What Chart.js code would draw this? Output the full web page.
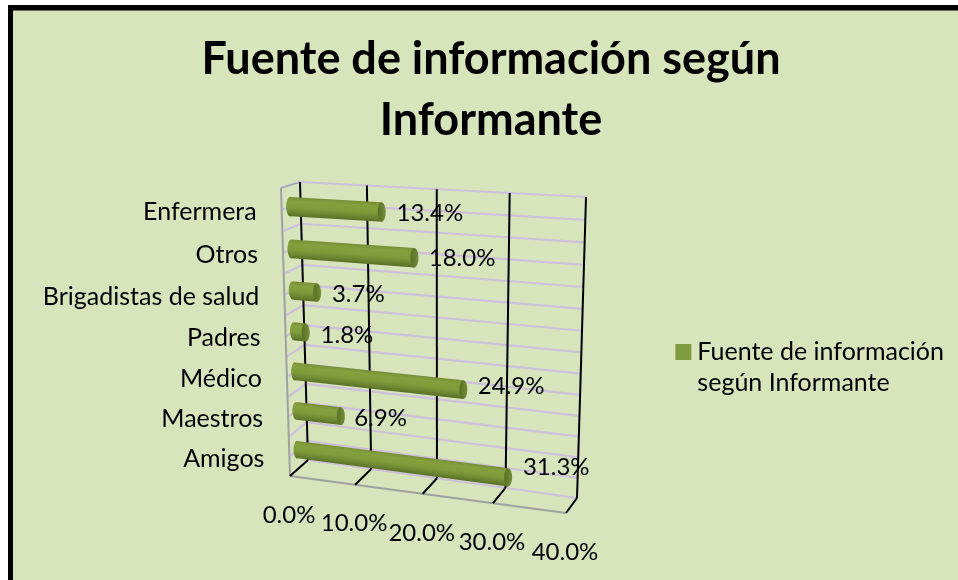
<!DOCTYPE html>
<html><head><meta charset="utf-8">
<style>html,body{margin:0;padding:0;background:#fff}#wrap{width:958px;height:580px;position:relative}</style>
<script src="https://cdn.jsdelivr.net/npm/chart.js@4"></script>
</head><body><div id="wrap"><canvas id="c" width="958" height="580"></canvas></div>
<script>
const categories = ['Enfermera','Otros','Brigadistas de salud','Padres','Médico','Maestros','Amigos'];
const seriesValues = [13.4,18.0,3.7,1.8,24.9,6.9,31.3];
const seriesName = ['Fuente de información','según Informante'];
const titleLines = ['Fuente de información según','Informante'];
const axisMax = 40, axisStep = 10;
const FONT = 'Lato';

// 3D box walls: projection of the plot rectangle
const BACK = [[300,182],[586,197],[577,498],[308,460]];
const FRONT = [[281,188],[575,203],[566,513],[290,476]];
function homography(q){
  const [[x0,y0],[x1,y1],[x2,y2],[x3,y3]] = q;
  const dx1=x1-x2,dx2=x3-x2,sx=x0-x1+x2-x3,dy1=y1-y2,dy2=y3-y2,sy=y0-y1+y2-y3;
  const det=dx1*dy2-dx2*dy1, g=(sx*dy2-dx2*sy)/det, h=(dx1*sy-sx*dy1)/det;
  const a=x1-x0+g*x1,b=x3-x0+h*x3,d=y1-y0+g*y1,e=y3-y0+h*y3;
  return (u,v)=>{const w=g*u+h*v+1;return [(a*u+b*v+x0)/w,(d*u+e*v+y0)/w];};
}
const hBack=homography(BACK), hFront=homography(FRONT);
function P(u,v,d){const A=hBack(u,v),B=hFront(u,v);return [A[0]+(B[0]-A[0])*d,A[1]+(B[1]-A[1])*d];}
const BAR_DEPTH=0.55;
const LABEL_NUDGE_X=[2,2,1,1,3,0,4], LABEL_NUDGE_Y=[2,2,4,6,0,7,-5];
let ca=null;

class CylinderBar extends Chart.BarElement{
  draw(ctx){
    const {x,y,base,height}=this.getProps(['x','y','base','height']);
    const nu=p=>(p-ca.left)/ca.width, nv=p=>(p-ca.top)/ca.height;
    const u0=nu(base),u1=nu(x),v=nv(y),dv=(height/2)/ca.height;
    const tl=P(u0,v-dv,BAR_DEPTH),tr=P(u1,v-dv,BAR_DEPTH),br=P(u1,v+dv,BAR_DEPTH),bl=P(u0,v+dv,BAR_DEPTH);
    const angL=Math.atan2(br[1]-tr[1],br[0]-tr[0])-Math.PI/2;
    const ry=Math.hypot(br[0]-tr[0],br[1]-tr[1])/2;
    const rx=4;
    const cR=[(tr[0]+br[0])/2,(tr[1]+br[1])/2], cL=[(tl[0]+bl[0])/2,(tl[1]+bl[1])/2];
    // shade across the cylinder: gradient axis normal to the bar direction
    const ax=cR[0]-cL[0],ay=cR[1]-cL[1],al=Math.hypot(ax,ay)||1;
    const nx=-ay/al,ny=ax/al;
    const g=ctx.createLinearGradient(cR[0]-nx*ry,cR[1]-ny*ry,cR[0]+nx*ry,cR[1]+ny*ry);
    g.addColorStop(0,'#748d35');g.addColorStop(0.22,'#85a03d');g.addColorStop(0.55,'#7f9b3a');g.addColorStop(0.85,'#67802f');g.addColorStop(1,'#576e28');
    ctx.save();
    ctx.fillStyle=g;
    ctx.beginPath();
    ctx.moveTo(tl[0],tl[1]);ctx.lineTo(tr[0],tr[1]);ctx.lineTo(br[0],br[1]);ctx.lineTo(bl[0],bl[1]);
    ctx.ellipse(cL[0],cL[1],rx,ry,angL,Math.PI/2,Math.PI*1.5);
    ctx.closePath();ctx.fill();
    ctx.beginPath();ctx.ellipse(cR[0],cR[1],rx,ry,angL,0,Math.PI*2);
    const gc=ctx.createLinearGradient(cR[0]-rx,cR[1],cR[0]+rx,cR[1]);
    gc.addColorStop(0,'#586e28');gc.addColorStop(1,'#748e35');
    ctx.fillStyle=gc;ctx.fill();
    ctx.restore();
  }
}
CylinderBar.id='cylinderBar';
CylinderBar.defaults=Chart.BarElement.defaults;
CylinderBar.defaultRoutes=Chart.BarElement.defaultRoutes;
class CylinderController extends Chart.BarController{}
CylinderController.id='cylinderBar';
CylinderController.defaults=Object.assign({},Chart.BarController.defaults,{dataElementType:'cylinderBar'});
CylinderController.overrides=Chart.BarController.overrides;
Chart.register(CylinderBar,CylinderController);

function line(ctx,a,b,color,w){ctx.strokeStyle=color;ctx.lineWidth=w;ctx.beginPath();ctx.moveTo(a[0],a[1]);ctx.lineTo(b[0],b[1]);ctx.stroke();}

const frame={id:'frame',beforeDraw(chart){
  const c=chart.ctx;c.save();
  c.fillStyle='#fff';c.fillRect(0,0,958,580);
  c.fillStyle='#000';c.fillRect(8,5,950,575);
  c.fillStyle='#d8e4bc';c.fillRect(13,10.5,945,570);
  c.restore();
}};
const box3d={id:'box3d',
  beforeDatasetsDraw(chart){
    ca=chart.chartArea;
    const c=chart.ctx,xs=chart.scales.x,ys=chart.scales.y;
    const nu=p=>(p-ca.left)/ca.width,nv=p=>(p-ca.top)/ca.height;
    c.save();c.lineCap='butt';
    const lilac='#ccc0da';
    const half=(ys.getPixelForTick(1)-ys.getPixelForTick(0))/2;
    for(let i=0;i<=ys.ticks.length*2;i++){
      const v=nv(ys.getPixelForTick(0)-half+i*half);
      line(c,P(0,v,0),P(1,v,0),lilac,2.2);
      line(c,P(0,v,0),P(0,v,1),lilac,2.2);
    }
    line(c,P(0,0,1),P(0,0,0),'#a6a6b4',1.5);
    line(c,P(0,0,1),P(0,1,1),'#a0a0a0',2);
    line(c,P(0,1,1),P(1,1,1),'#a0a0a0',2);
    xs.ticks.forEach((t,i)=>{
      const u=nu(xs.getPixelForTick(i));
      line(c,P(u,0,0),P(u,1,0),'#000',2);
      line(c,P(u,1,0),P(u,1,1),'#000',2);
    });
    c.restore();
  },
  afterDatasetsDraw(chart){
    const c=chart.ctx,xs=chart.scales.x,ys=chart.scales.y;
    const nu=p=>(p-ca.left)/ca.width,nv=p=>(p-ca.top)/ca.height;
    c.save();
    c.fillStyle='#000';c.textBaseline='middle';
    c.font='24px '+FONT;
    c.textAlign='center';
    xs.ticks.forEach((t,i)=>{
      const p=P(nu(xs.getPixelForTick(i)),1,1);
      c.fillText(t.label,p[0]-1,p[1]+39);
    });
    c.font='25px '+FONT;
    c.textAlign='right';
    ys.ticks.forEach((t,i)=>{
      const p=P(0,nv(ys.getPixelForTick(i)),1);
      c.fillText(ys.getLabelForValue(t.value),p[0]-25,p[1]+2);
    });
    c.font='24px '+FONT;
    c.textAlign='left';
    const meta=chart.getDatasetMeta(0);
    meta.data.forEach((el,i)=>{
      const p=P(nu(el.x),nv(el.y),0);
      c.fillText(seriesValues[i].toFixed(1)+'%',p[0]+4+LABEL_NUDGE_X[i],p[1]+3+LABEL_NUDGE_Y[i]);
    });
    c.restore();
  }
};
new Chart(document.getElementById('c'),{
  type:'cylinderBar',
  data:{labels:categories,datasets:[{label:seriesName,data:seriesValues,backgroundColor:'#7f9a3f',clip:false,barPercentage:0.45,categoryPercentage:1}]},
  options:{
    indexAxis:'y',responsive:false,animation:false,
    layout:{padding:{left:28,right:4,top:0,bottom:0}},
    scales:{
      x:{type:'linear',display:false,min:0,max:axisMax,ticks:{stepSize:axisStep,callback:v=>v.toFixed(1)+'%'}},
      y:{type:'category',display:false,offset:true}
    },
    plugins:{
      title:{display:true,text:titleLines,color:'#000',font:{family:FONT,size:45,weight:'bold',lineHeight:1.35},padding:{top:29,bottom:11}},
      legend:{position:'right',align:'center',fullSize:false,labels:{usePointStyle:true,boxWidth:3,boxHeight:16,padding:10,color:'#000',font:{family:FONT,size:25,lineHeight:1.25},
        generateLabels(ch){const d=ch.data.datasets[0];return [{text:seriesName,fillStyle:d.backgroundColor,strokeStyle:d.backgroundColor,lineWidth:0,pointStyle:'rect',rotation:0,datasetIndex:0,fontColor:'#000'}];}}},
      tooltip:{enabled:false}
    }
  },
  plugins:[frame,box3d]
});
</script></body></html>
